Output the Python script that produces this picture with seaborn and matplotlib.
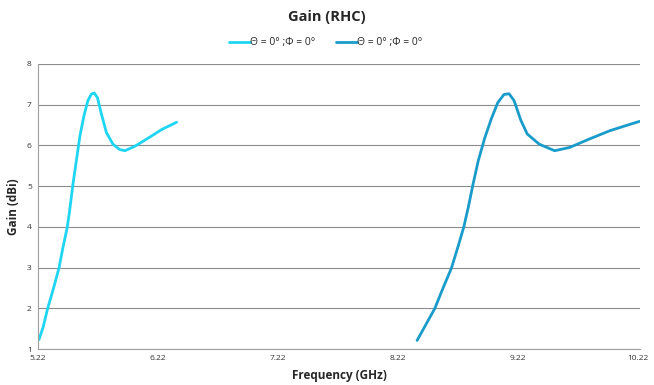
import matplotlib
matplotlib.use("Agg")
import matplotlib.pyplot as plt
import seaborn as sns
import pandas as pd

# Series 1 (light cyan)
freq1 = [5.228, 5.264, 5.300, 5.350, 5.395, 5.430, 5.464, 5.482, 5.514, 5.543, 5.570,
         5.604, 5.636, 5.665, 5.689, 5.716, 5.748, 5.790, 5.845, 5.900, 5.945, 6.028,
         6.139, 6.251, 6.376]
gain1 = [1.23, 1.55, 1.99, 2.50, 2.99, 3.52, 3.99, 4.36, 5.10, 5.69, 6.24,
         6.74, 7.10, 7.26, 7.29, 7.17, 6.78, 6.32, 6.03, 5.90, 5.87, 5.98,
         6.18, 6.39, 6.57]
# Series 2 (darker blue)
freq2 = [8.381, 8.445, 8.528, 8.598, 8.668, 8.723, 8.770, 8.808, 8.848, 8.890, 8.945,
         9.001, 9.054, 9.105, 9.148, 9.190, 9.246, 9.300, 9.400, 9.528, 9.653, 9.820,
         9.987, 10.126, 10.235]
gain2 = [1.21, 1.55, 1.99, 2.50, 2.99, 3.52, 3.99, 4.48, 5.05, 5.61, 6.18,
         6.66, 7.05, 7.25, 7.27, 7.10, 6.62, 6.28, 6.03, 5.87, 5.95, 6.16,
         6.36, 6.49, 6.59]

labels = ["Θ = 0° ;Φ = 0°", "Θ = 0° ;Φ = 0° "]
colors = ["#1ED6F2", "#1A9CCB"]
xticks = [5.22, 6.22, 7.22, 8.22, 9.22, 10.22]
yticks = [1, 2, 3, 4, 5, 6, 7, 8]

df = pd.concat([
    pd.DataFrame({"freq": freq1, "gain": gain1, "series": labels[0]}),
    pd.DataFrame({"freq": freq2, "gain": gain2, "series": labels[1]}),
])

sns.set_style("white")
plt.rcParams["font.family"] = ["Open Sans", "DejaVu Sans"]

fig = plt.figure(figsize=(6.54, 3.85), dpi=100)
ax = fig.add_axes([38/654, 1 - 349/385, (640-38)/654, (349-64)/385])

sns.lineplot(data=df, x="freq", y="gain", hue="series", palette=colors,
             linewidth=2.0, ax=ax, legend=True, sort=False)
for ln in ax.lines:
    ln.set_solid_joinstyle("round")
    ln.set_solid_capstyle("round")

ax.set_xlim(5.22, 10.24)
ax.set_ylim(1, 8)
ax.set_xticks(xticks)
ax.set_xticklabels([f"{v:.2f}" for v in xticks], fontsize=6)
ax.set_yticks(yticks)
ax.set_yticklabels([str(v) for v in yticks], fontsize=6)
ax.yaxis.grid(True, color="#8c8c8c", linewidth=0.8)
ax.xaxis.grid(False)
for s in ["top", "right"]:
    ax.spines[s].set_visible(False)
for s in ["left", "bottom"]:
    ax.spines[s].set_color("#a0a0a0")
    ax.spines[s].set_linewidth(0.8)
ax.tick_params(axis="both", length=3, width=0.8, pad=1.5, colors="#a0a0a0", labelcolor="#333333")

ax.set_xlabel("Frequency (GHz)", fontsize=8.5, fontweight="bold", labelpad=5)
ax.set_ylabel("Gain (dBi)", fontsize=8.5, fontweight="bold", labelpad=5)

fig.suptitle("Gain (RHC)", fontsize=10.5, fontweight="bold", y=1 - 17/385, va="center")

handles, _ = ax.get_legend_handles_labels()
ax.legend(handles=handles, labels=labels, loc="center", bbox_to_anchor=(0.5, (385-43)/385),
          bbox_transform=fig.transFigure, ncol=2, frameon=False, fontsize=7.5,
          handlelength=2.0, handletextpad=0.0, columnspacing=2.0)

fig.savefig("out.png", dpi=100)
